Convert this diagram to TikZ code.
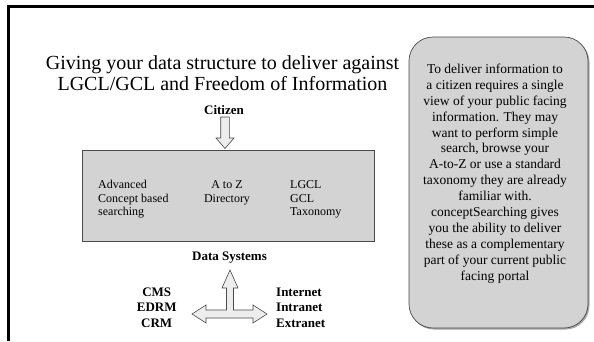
\documentclass[tikz,border=0pt]{standalone}
\usepackage{fontspec}
\setmainfont{Liberation Serif}
\usepackage{xcolor}
\usetikzlibrary{positioning}

\definecolor{boxgray}{HTML}{D3D3D3}
\definecolor{arrowgray}{HTML}{EDEDED}
\definecolor{edgegray}{HTML}{4A4A4A}

\begin{document}
\begin{tikzpicture}[x=1pt,y=-1pt]
						\tikzstyle{label}=[inner sep=0pt,font=\fontsize{13}{15.5}\selectfont\bfseries]
						\tikzstyle{boxtext}=[inner sep=0pt,align=left,font=\fontsize{12}{13.5}\selectfont]
						\tikzstyle{blockarrow}=[fill=arrowgray,draw=edgegray,line width=0.6pt,line join=miter]
						\useasboundingbox (0,0) rectangle (594,341);
						% slide frame
						\draw[line width=3pt] (8.5,341) -- (8.5,6) -- (594,6);
						% title
						\node[inner sep=0pt,align=center,font=\fontsize{20}{21}\selectfont](title) at (222.5,73) {Giving your data structure to deliver against\\LGCL/GCL and Freedom of Information};
						% citizen and portal box
						\node[label](citizen) at (224,110) {Citizen};
						\draw[fill=boxgray,draw=edgegray,line width=0.7pt] (82.3,150.7) rectangle (374,241.7);
						\draw[blockarrow] (220.7,117) -- (229.3,117) -- (229.3,138) -- (234,138) -- (225,148.5) -- (216,138) -- (220.7,138) -- cycle;
						\node[boxtext,anchor=west](concept) at (98,199.5) {Advanced\\Concept based\\searching};
						\node[boxtext,align=center](atoz) at (227,193) {A to Z\\Directory};
						\node[boxtext,anchor=west](lgcl) at (290,199.5) {LGCL\\GCL\\Taxonomy};
						% data systems
						\node[label](data) at (229.5,258) {Data Systems};
						\draw[blockarrow] (230,270) -- (238,288) -- (233.5,288) -- (233.5,310) -- (253,310) -- (253,305) -- (267,314) -- (253,323) -- (253,318) -- (206,318) -- (206,323) -- (192,314) -- (206,305) -- (206,310) -- (226.5,310) -- (226.5,288) -- (222,288) -- cycle;
						\node[label,align=center](cms) at (156.7,307.5) {CMS\\EDRM\\CRM};
						\node[label,align=left,anchor=west](net) at (276,307.5) {Internet\\Intranet\\Extranet};
						% side note
						\fill[gray!70,rounded corners=24pt] (410,38.5) rectangle (589.5,329.5);
						\node[draw=edgegray,fill=boxgray,line width=0.7pt,rounded corners=24pt,minimum width=179pt,minimum height=291pt](note) at (498.5,182.5) {};
						\node[inner sep=0pt,align=center,font=\fontsize{13.5}{15.9}\selectfont](notetext) at (495,173.5) {To deliver information to\\a citizen requires a single\\view of your public facing\\information. They may\\want to perform simple\\search, browse your\\A-to-Z or use a standard\\taxonomy they are already\\familiar with.\\conceptSearching gives\\you the ability to deliver\\these as a complementary\\part of your current public\\facing portal};
					\end{tikzpicture}
\end{document}
